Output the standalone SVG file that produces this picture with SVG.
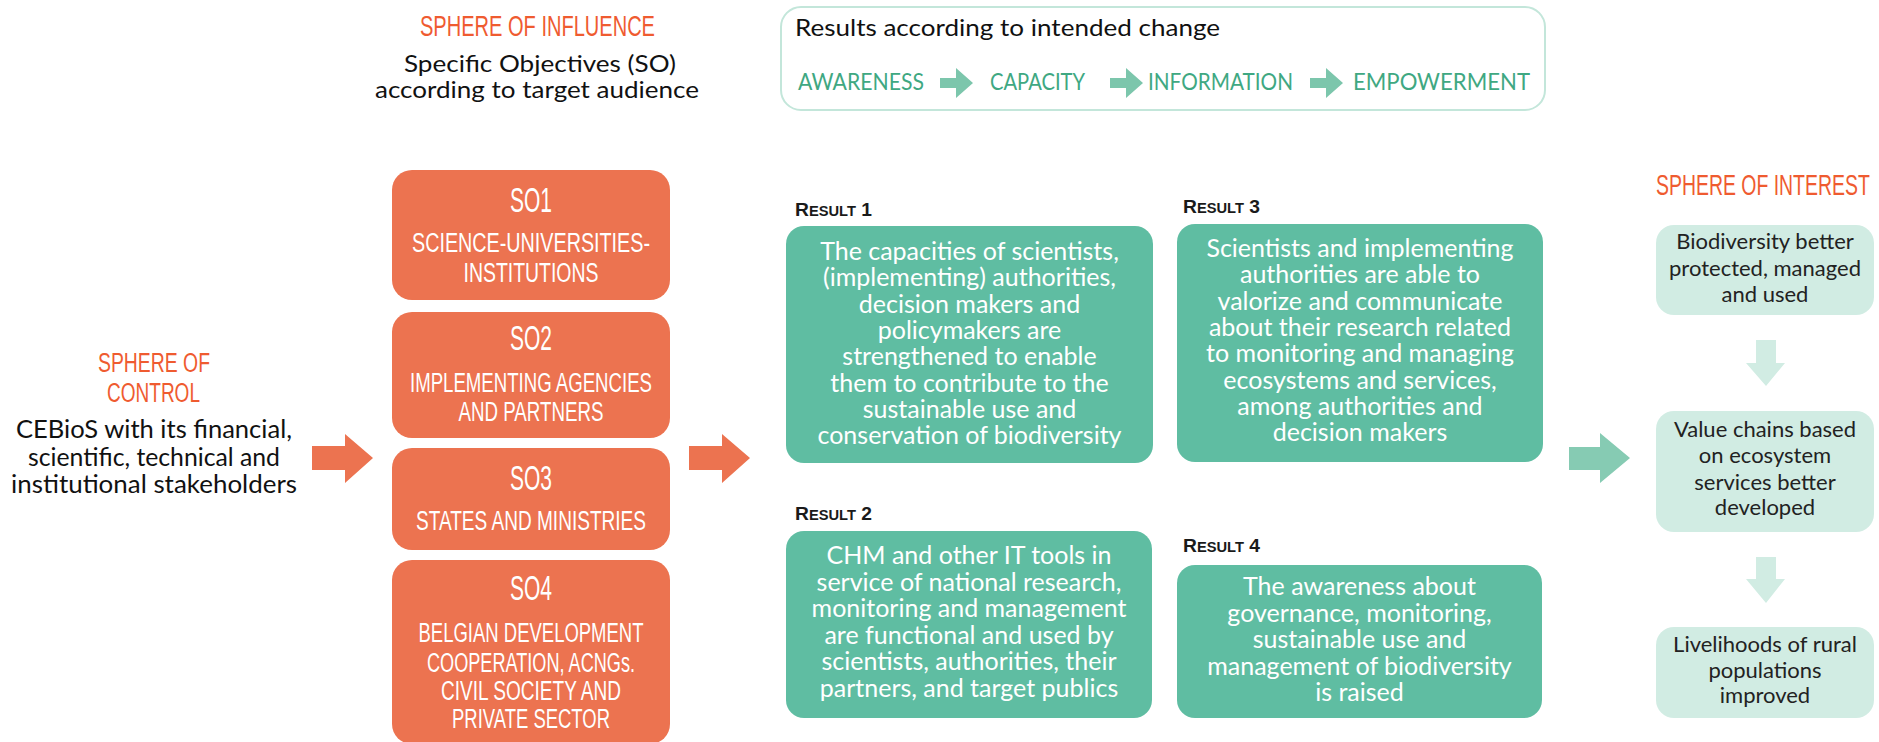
<svg xmlns="http://www.w3.org/2000/svg" width="1879" height="742" viewBox="0 0 1879 742">
<style>
.bg{fill:#ffffff}
.sph{font-family:"Liberation Sans",Arial,sans-serif;font-size:30px;fill:#EF5B30}
.sph2{font-family:"Liberation Sans",Arial,sans-serif;font-size:27px;fill:#EF5B30}
.so{fill:#EC7350}
.sot{font-family:"Liberation Sans",Arial,sans-serif;fill:#ffffff;text-anchor:middle}
.son{font-size:35px}
.sob{font-size:27px}
.res{fill:#5FBDA2}
.rt{font-family:Lato,"Liberation Sans",sans-serif;font-size:25px;fill:#ffffff;text-anchor:middle}
.lbl{font-family:"Liberation Sans",Arial,sans-serif;font-weight:bold;font-size:19px;fill:#1a1a1a}
.lbl .sc{font-size:14.5px}
.int{fill:#D1ECE3}
.it{font-family:Lato,"Liberation Sans",sans-serif;font-size:22px;fill:#222222;text-anchor:middle}
.dk{font-family:Lato,"Liberation Sans",sans-serif;font-size:24.5px;fill:#111111;text-anchor:middle}
.dk2{font-family:Lato,"Liberation Sans",sans-serif;font-size:23px;fill:#111111;text-anchor:middle}
.hd{font-family:Lato,"Liberation Sans",sans-serif;font-size:24px;fill:#111111}
.stage{font-family:Lato,"Liberation Sans",sans-serif;font-size:24px;fill:#3FA882}
.oa{fill:#EC7350}
.ta{fill:#86CBB3}
.sa{fill:#7CC6AC}
.da{fill:#D1ECE3}
</style>
<rect class="bg" x="0" y="0" width="1879" height="742"/>

<g id="sphere-influence">
<text class="sph" x="420" y="36" textLength="235" lengthAdjust="spacingAndGlyphs">SPHERE OF INFLUENCE</text>
<text class="dk2" x="540" y="72" textLength="272" lengthAdjust="spacingAndGlyphs">Specific Objectives (SO)</text>
<text class="dk2" x="537" y="98" textLength="324" lengthAdjust="spacingAndGlyphs">according to target audience</text>
</g>

<g id="intended-change">
<rect x="781" y="7" width="764" height="103" rx="20" ry="20" fill="none" stroke="#C3E6DA" stroke-width="2"/>
<text class="hd" x="795" y="36" textLength="425" lengthAdjust="spacingAndGlyphs">Results according to intended change</text>
<text class="stage" x="798" y="90" textLength="126" lengthAdjust="spacingAndGlyphs">AWARENESS</text>
<text class="stage" x="990" y="90" textLength="95" lengthAdjust="spacingAndGlyphs">CAPACITY</text>
<text class="stage" x="1148" y="90" textLength="145" lengthAdjust="spacingAndGlyphs">INFORMATION</text>
<text class="stage" x="1353" y="90" textLength="177" lengthAdjust="spacingAndGlyphs">EMPOWERMENT</text>
</g>

<g id="sphere-control">
<text class="sph2" x="98" y="372" textLength="112" lengthAdjust="spacingAndGlyphs">SPHERE OF</text>
<text class="sph2" x="107" y="402" textLength="93" lengthAdjust="spacingAndGlyphs">CONTROL</text>
<text class="dk" x="154" y="438" textLength="276" lengthAdjust="spacingAndGlyphs">CEBioS with its financial,</text>
<text class="dk" x="154" y="466" textLength="252" lengthAdjust="spacingAndGlyphs">scientific, technical and</text>
<text class="dk" x="154" y="493" textLength="286" lengthAdjust="spacingAndGlyphs">institutional stakeholders</text>
</g>

<g id="so1">
<rect class="so" x="392" y="170" width="278" height="130" rx="20" ry="20"/>
<text class="sot son" x="531" y="212" textLength="42" lengthAdjust="spacingAndGlyphs">SO1</text>
<text class="sot sob" x="531" y="252" textLength="238" lengthAdjust="spacingAndGlyphs">SCIENCE-UNIVERSITIES-</text>
<text class="sot sob" x="531" y="282" textLength="135" lengthAdjust="spacingAndGlyphs">INSTITUTIONS</text>
</g>
<g id="so2">
<rect class="so" x="392" y="312" width="278" height="126" rx="20" ry="20"/>
<text class="sot son" x="531" y="350" textLength="42" lengthAdjust="spacingAndGlyphs">SO2</text>
<text class="sot sob" x="531" y="392" textLength="242" lengthAdjust="spacingAndGlyphs">IMPLEMENTING AGENCIES</text>
<text class="sot sob" x="531" y="421" textLength="145" lengthAdjust="spacingAndGlyphs">AND PARTNERS</text>
</g>
<g id="so3">
<rect class="so" x="392" y="448" width="278" height="102" rx="20" ry="20"/>
<text class="sot son" x="531" y="490" textLength="42" lengthAdjust="spacingAndGlyphs">SO3</text>
<text class="sot sob" x="531" y="530" textLength="230" lengthAdjust="spacingAndGlyphs">STATES AND MINISTRIES</text>
</g>
<g id="so4">
<rect class="so" x="392" y="560" width="278" height="184" rx="20" ry="20"/>
<text class="sot son" x="531" y="600" textLength="42" lengthAdjust="spacingAndGlyphs">SO4</text>
<text class="sot sob" x="531" y="642" textLength="225" lengthAdjust="spacingAndGlyphs">BELGIAN DEVELOPMENT</text>
<text class="sot sob" x="531" y="672" textLength="208" lengthAdjust="spacingAndGlyphs">COOPERATION, ACNGs.</text>
<text class="sot sob" x="531" y="700" textLength="180" lengthAdjust="spacingAndGlyphs">CIVIL SOCIETY AND</text>
<text class="sot sob" x="531" y="728" textLength="158" lengthAdjust="spacingAndGlyphs">PRIVATE SECTOR</text>
</g>

<g id="result1">
<text class="lbl" x="795" y="216" textLength="77" lengthAdjust="spacingAndGlyphs">R<tspan class="sc">ESULT</tspan> 1</text>
<rect class="res" x="786" y="226" width="367" height="237" rx="18" ry="18"/>
<text class="rt" x="969.5" y="260">The capacities of scientists,</text>
<text class="rt" x="969.5" y="286.3">(implementing) authorities,</text>
<text class="rt" x="969.5" y="312.6">decision makers and</text>
<text class="rt" x="969.5" y="338.9">policymakers are</text>
<text class="rt" x="969.5" y="365.2">strengthened to enable</text>
<text class="rt" x="969.5" y="391.5">them to contribute to the</text>
<text class="rt" x="969.5" y="417.8">sustainable use and</text>
<text class="rt" x="969.5" y="444.1">conservation of biodiversity</text>
</g>

<g id="result2">
<text class="lbl" x="795" y="520" textLength="77" lengthAdjust="spacingAndGlyphs">R<tspan class="sc">ESULT</tspan> 2</text>
<rect class="res" x="786" y="531" width="366" height="187" rx="18" ry="18"/>
<text class="rt" x="969" y="564">CHM and other IT tools in</text>
<text class="rt" x="969" y="590.5">service of national research,</text>
<text class="rt" x="969" y="617">monitoring and management</text>
<text class="rt" x="969" y="643.5">are functional and used by</text>
<text class="rt" x="969" y="670">scientists, authorities, their</text>
<text class="rt" x="969" y="696.5">partners, and target publics</text>
</g>

<g id="result3">
<text class="lbl" x="1183" y="213" textLength="77" lengthAdjust="spacingAndGlyphs">R<tspan class="sc">ESULT</tspan> 3</text>
<rect class="res" x="1177" y="224" width="366" height="238" rx="18" ry="18"/>
<text class="rt" x="1360" y="257">Scientists and implementing</text>
<text class="rt" x="1360" y="283.3">authorities are able to</text>
<text class="rt" x="1360" y="309.6">valorize and communicate</text>
<text class="rt" x="1360" y="335.9">about their research related</text>
<text class="rt" x="1360" y="362.2">to monitoring and managing</text>
<text class="rt" x="1360" y="388.5">ecosystems and services,</text>
<text class="rt" x="1360" y="414.8">among authorities and</text>
<text class="rt" x="1360" y="441.1">decision makers</text>
</g>

<g id="result4">
<text class="lbl" x="1183" y="552" textLength="77" lengthAdjust="spacingAndGlyphs">R<tspan class="sc">ESULT</tspan> 4</text>
<rect class="res" x="1177" y="565" width="365" height="153" rx="18" ry="18"/>
<text class="rt" x="1359.5" y="595">The awareness about</text>
<text class="rt" x="1359.5" y="621.5">governance, monitoring,</text>
<text class="rt" x="1359.5" y="648">sustainable use and</text>
<text class="rt" x="1359.5" y="674.5">management of biodiversity</text>
<text class="rt" x="1359.5" y="701">is raised</text>
</g>

<g id="sphere-interest">
<text class="sph" transform="translate(1656,195) scale(0.648,1)" x="0" y="0">SPHERE OF INTEREST</text>
</g>
<g id="interest1">
<rect class="int" x="1656" y="225" width="218" height="90" rx="18" ry="18"/>
<text class="it" x="1765" y="249">Biodiversity better</text>
<text class="it" x="1765" y="276">protected, managed</text>
<text class="it" x="1765" y="302">and used</text>
</g>
<g id="interest2">
<rect class="int" x="1656" y="411" width="218" height="121" rx="18" ry="18"/>
<text class="it" x="1765" y="437">Value chains based</text>
<text class="it" x="1765" y="463">on ecosystem</text>
<text class="it" x="1765" y="490">services better</text>
<text class="it" x="1765" y="515">developed</text>
</g>
<g id="interest3">
<rect class="int" x="1656" y="627" width="218" height="91" rx="18" ry="18"/>
<text class="it" x="1765" y="652">Livelihoods of rural</text>
<text class="it" x="1765" y="678">populations</text>
<text class="it" x="1765" y="703">improved</text>
</g>

<g id="connectors">
<polygon class="oa" points="312,446 345,446 345,434 373,458 345,483 345,470 312,470"/>
<polygon class="oa" points="689,446 722,446 722,434 750,458 722,483 722,470 689,470"/>
<polygon class="ta" points="1569,447 1600,447 1600,433 1630,458 1600,483 1600,470 1569,470"/>
<polygon class="da" points="1756,340 1776,340 1776,363 1785,363 1766,386 1746,363 1756,363"/>
<polygon class="da" points="1756,557 1776,557 1776,579 1785,579 1766,603 1746,579 1756,579"/>
<polygon class="sa" points="940,78 956,78 956,68 973,83 956,98 956,88 940,88"/>
<polygon class="sa" points="1110,78 1126,78 1126,68 1143,83 1126,98 1126,88 1110,88"/>
<polygon class="sa" points="1310,78 1326,78 1326,68 1343,83 1326,98 1326,88 1310,88"/>
</g>
</svg>
